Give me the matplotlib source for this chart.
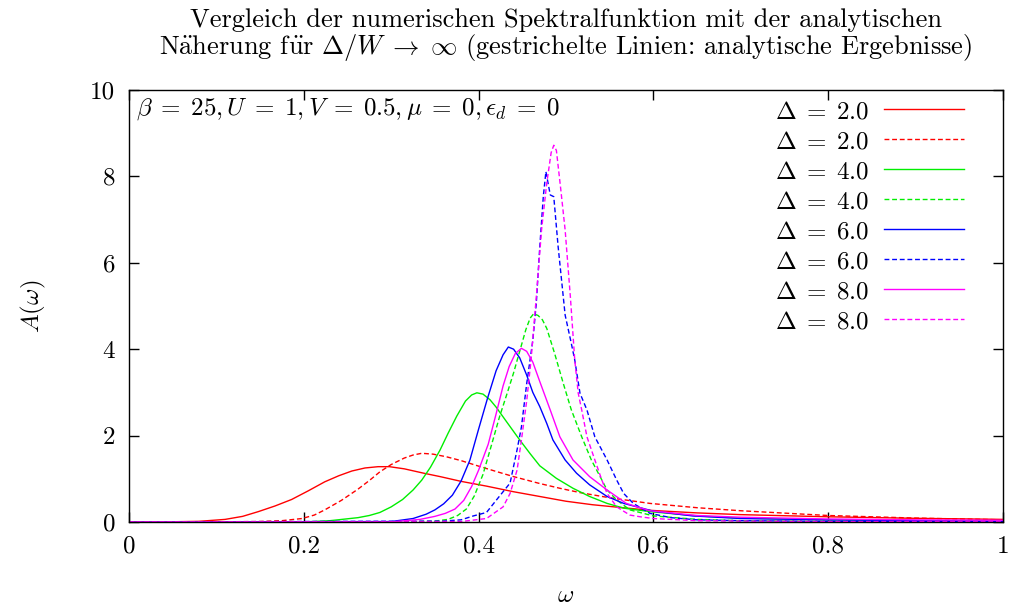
import matplotlib
matplotlib.use("Agg")
import matplotlib.pyplot as plt

# ------------------------------------------------------------------------------
# Spectral function A(omega).
# Solid = numerical, dashed = analytic (Delta/W -> infinity).
# ------------------------------------------------------------------------------

w_num_2 = [0.0, 0.05, 0.08, 0.11, 0.13, 0.148, 0.167, 0.186, 0.205, 0.224, 0.24,
           0.255, 0.27, 0.285, 0.298, 0.315, 0.337, 0.356, 0.38, 0.409, 0.44,
           0.47, 0.50, 0.53, 0.56, 0.596, 0.65, 0.70, 0.80, 0.90, 1.0]
a_num_2 = [0.0, 0.005, 0.015, 0.06, 0.13, 0.24, 0.37, 0.52, 0.72, 0.93, 1.07,
           1.18, 1.25, 1.28, 1.28, 1.23, 1.13, 1.05, 0.94, 0.83, 0.70,
           0.59, 0.48, 0.40, 0.34, 0.27, 0.21, 0.17, 0.12, 0.085, 0.06]

w_ana_2 = [0.0, 0.10, 0.148, 0.175, 0.198, 0.212, 0.224, 0.243, 0.262, 0.275,
           0.287, 0.30, 0.315, 0.325, 0.335, 0.348, 0.363, 0.38, 0.402, 0.42,
           0.44, 0.47, 0.493, 0.516, 0.55, 0.596, 0.65, 0.70, 0.80, 0.90, 1.0]
a_ana_2 = [0.0, 0.003, 0.01, 0.03, 0.08, 0.16, 0.28, 0.5, 0.76, 0.96,
           1.16, 1.33, 1.48, 1.55, 1.59, 1.57, 1.51, 1.42, 1.28, 1.17,
           1.05, 0.89, 0.78, 0.68, 0.56, 0.43, 0.33, 0.26, 0.15, 0.09, 0.05]

w_num_4 = [0.0, 0.20, 0.23, 0.262, 0.275, 0.287, 0.30, 0.313, 0.325, 0.335,
           0.345, 0.356, 0.365, 0.375, 0.385, 0.392, 0.398, 0.405, 0.413, 0.42,
           0.432, 0.447, 0.459, 0.47, 0.489, 0.508, 0.527, 0.547, 0.566, 0.596,
           0.65, 0.70, 0.80, 0.90, 1.0]
a_num_4 = [0.0, 0.0, 0.03, 0.1, 0.15, 0.22, 0.35, 0.52, 0.74, 0.97,
           1.27, 1.67, 2.05, 2.45, 2.8, 2.94, 2.99, 2.96, 2.83, 2.66,
           2.32, 1.9, 1.58, 1.3, 1.01, 0.78, 0.59, 0.43, 0.32, 0.24,
           0.14, 0.09, 0.05, 0.03, 0.02]

w_ana_4 = [0.0, 0.30, 0.35, 0.365, 0.376, 0.386, 0.395, 0.405, 0.415, 0.424,
           0.433, 0.44, 0.447, 0.454, 0.459, 0.463, 0.468, 0.473, 0.478, 0.487,
           0.497, 0.506, 0.518, 0.529, 0.539, 0.547, 0.558, 0.573, 0.60, 0.65,
           0.70, 0.80, 1.0]
a_ana_4 = [0.0, 0.0, 0.02, 0.06, 0.15, 0.3, 0.6, 1.1, 1.8, 2.44,
           3.0, 3.45, 3.95, 4.45, 4.72, 4.82, 4.78, 4.68, 4.48, 3.9,
           3.2, 2.6, 1.97, 1.435, 1.05, 0.74, 0.51, 0.28, 0.14, 0.06,
           0.03, 0.015, 0.01]

w_num_6 = [0.0, 0.30, 0.325, 0.34, 0.35, 0.36, 0.37, 0.38, 0.39, 0.40,
           0.41, 0.42, 0.428, 0.434, 0.44, 0.447, 0.455, 0.462, 0.47, 0.478,
           0.485, 0.499, 0.512, 0.527, 0.547, 0.566, 0.60, 0.645, 0.70, 0.80,
           0.90, 1.0]
a_num_6 = [0.0, 0.01, 0.08, 0.18, 0.28, 0.42, 0.62, 0.95, 1.43, 2.15,
           2.85, 3.5, 3.87, 4.05, 4.0, 3.8, 3.4, 3.0, 2.67, 2.28,
           1.9, 1.435, 1.13, 0.86, 0.59, 0.43, 0.25, 0.14, 0.08, 0.05,
           0.03, 0.02]

w_ana_6 = [0.0, 0.36, 0.38, 0.394, 0.409, 0.424, 0.436, 0.444, 0.449, 0.455,
           0.462, 0.466, 0.470, 0.474, 0.477, 0.482, 0.486, 0.491, 0.499, 0.506,
           0.510, 0.516, 0.524, 0.533, 0.547, 0.558, 0.566, 0.577, 0.596, 0.62,
           0.65, 0.70, 0.80, 1.0]
a_ana_6 = [0.0, 0.02, 0.05, 0.14, 0.22, 0.6, 0.9, 1.67, 2.2, 3.2,
           4.2, 5.06, 6.37, 7.53, 8.11, 7.57, 7.53, 6.37, 4.79, 4.14,
           3.75, 2.98, 2.59, 1.97, 1.435, 0.97, 0.66, 0.43, 0.2, 0.1,
           0.05, 0.03, 0.015, 0.01]

w_num_8 = [0.0, 0.30, 0.333, 0.35, 0.362, 0.373, 0.383, 0.392, 0.40, 0.411,
           0.42, 0.428, 0.435, 0.442, 0.449, 0.455, 0.462, 0.47, 0.482, 0.493,
           0.508, 0.527, 0.547, 0.569, 0.596, 0.65, 0.70, 0.80, 0.90, 1.0]
a_num_8 = [0.0, 0.0, 0.06, 0.13, 0.2, 0.3, 0.5, 0.82, 1.2, 1.8,
           2.5, 3.15, 3.6, 3.9, 4.02, 3.95, 3.7, 3.25, 2.59, 1.97,
           1.435, 1.05, 0.74, 0.43, 0.26, 0.15, 0.11, 0.07, 0.05, 0.04]

w_ana_8 = [0.0, 0.38, 0.409, 0.428, 0.436, 0.444, 0.449, 0.455, 0.460, 0.466,
           0.472, 0.478, 0.483, 0.486, 0.489, 0.494, 0.499, 0.505, 0.510, 0.514,
           0.518, 0.524, 0.533, 0.541, 0.547, 0.558, 0.573, 0.585, 0.60, 0.65,
           0.70, 0.80, 1.0]
a_ana_8 = [0.0, 0.01, 0.08, 0.35, 0.66, 1.2, 1.9, 2.8, 3.75, 5.21,
           6.76, 7.85, 8.55, 8.72, 8.6, 7.7, 6.76, 5.21, 3.75, 2.98,
           2.59, 1.97, 1.435, 0.97, 0.66, 0.35, 0.16, 0.12, 0.08, 0.03,
           0.02, 0.01, 0.005]

deltas = ["2.0", "4.0", "6.0", "8.0"]
colors = ["#ff0000", "#00ee00", "#0000ff", "#ff00ff"]
numeric = [(w_num_2, a_num_2), (w_num_4, a_num_4), (w_num_6, a_num_6), (w_num_8, a_num_8)]
analytic = [(w_ana_2, a_ana_2), (w_ana_4, a_ana_4), (w_ana_6, a_ana_6), (w_ana_8, a_ana_8)]

x_ticks = [0, 0.2, 0.4, 0.6, 0.8, 1]
x_tick_labels = ["0", "0.2", "0.4", "0.6", "0.8", "1"]
y_ticks = [0, 2, 4, 6, 8, 10]
y_tick_labels = ["0", "2", "4", "6", "8", "10"]

plt.rcParams["font.family"] = ["cmr10", "DejaVu Serif"]
plt.rcParams["mathtext.fontset"] = "cm"
plt.rcParams["axes.formatter.use_mathtext"] = True

fig = plt.figure(figsize=(10.11, 6.10), dpi=100)
ax = fig.add_axes([0.1276, 0.1443, 0.8645, 0.7082])

for i in range(len(deltas)):
    ax.plot(numeric[i][0], numeric[i][1], color=colors[i], lw=1.0,
            label=r"$\Delta\;=\;%s$" % deltas[i])
    ax.plot(analytic[i][0], analytic[i][1], color=colors[i], lw=1.0,
            dashes=(3.5, 2), label=r"$\Delta\;=\;%s$" % deltas[i])

ax.set_xlim(0, 1)
ax.set_ylim(0, 10)
ax.set_xticks(x_ticks)
ax.set_xticklabels(x_tick_labels)
ax.set_yticks(y_ticks)
ax.set_yticklabels(y_tick_labels)
ax.tick_params(direction="in", length=7, width=1, top=True, right=True,
               labelsize=18, pad=10)
for spine in ax.spines.values():
    spine.set_linewidth(1.0)

ax.set_xlabel(r"$\omega$", fontsize=18, labelpad=19)
ax.set_ylabel(r"$A(\omega)$", fontsize=18, labelpad=30)
ax.set_title("Vergleich der numerischen Spektralfunktion mit der analytischen\n"
             r"N$\ddot{\mathrm{a}}$herung f$\ddot{\mathrm{u}}$r "
             r"$\Delta/W\;\rightarrow\;\infty$ (gestrichelte Linien: analytische Ergebnisse)",
             fontsize=19, pad=26, linespacing=1.0)

ax.text(0.008, 0.985,
        r"$\beta\;=\;25, U\;=\;1, V\;=\;0.5, \mu\;=\;0, \epsilon_d\;=\;0$",
        transform=ax.transAxes, ha="left", va="top", fontsize=18)

ax.legend(loc="upper right", frameon=False, markerfirst=False, fontsize=18,
          handlelength=3.2, handletextpad=0.6, labelspacing=0.3,
          borderaxespad=0.2, bbox_to_anchor=(0.973, 1.01))

plt.savefig("out.png", dpi=100)
